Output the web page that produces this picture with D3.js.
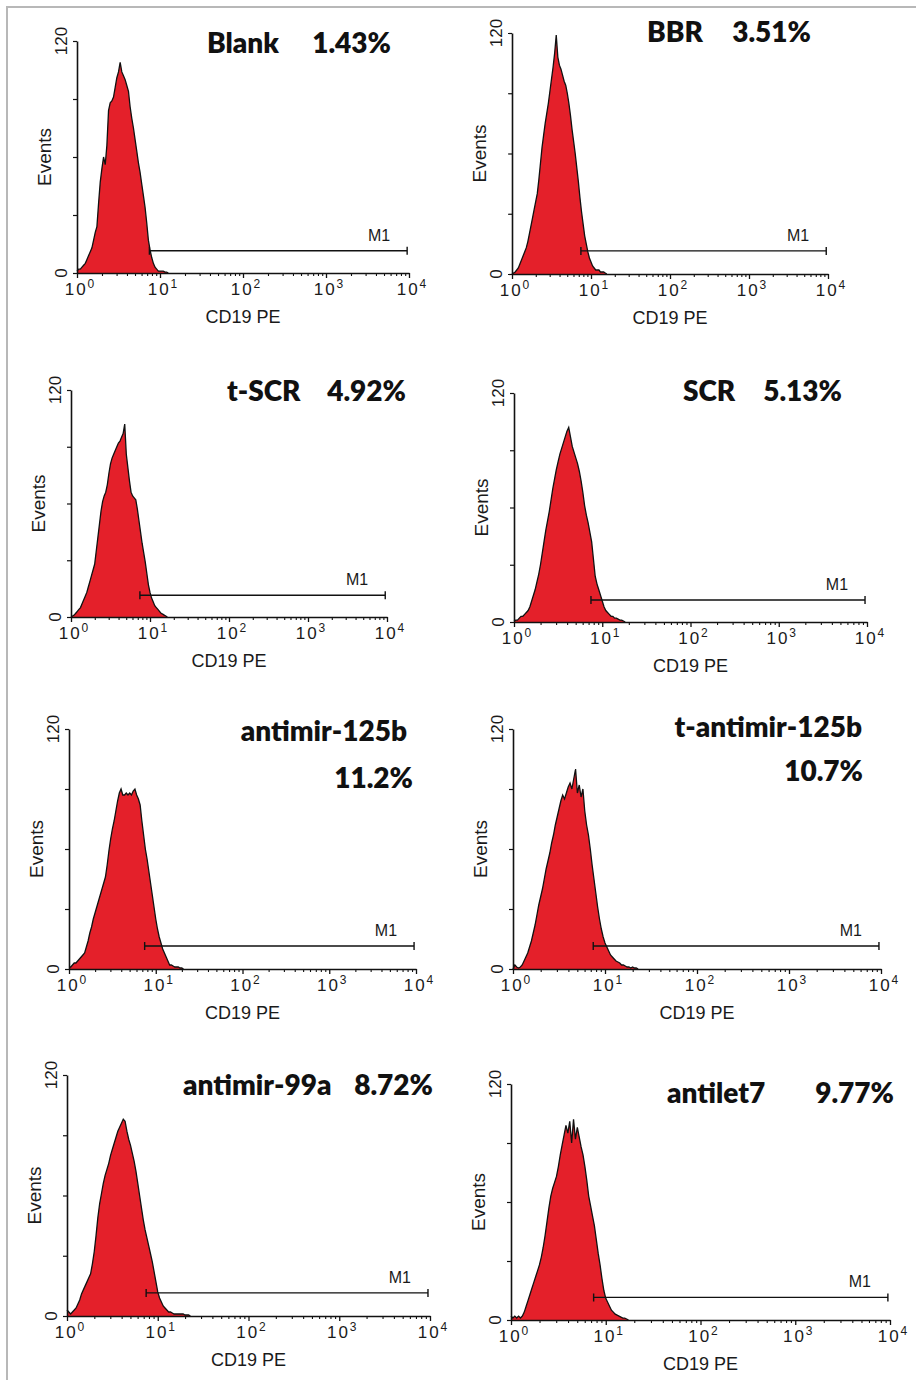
<!DOCTYPE html>
<head>
  <meta charset="utf-8">
  <script src="https://d3js.org/d3.v7.min.js"></script>
  <style>
    body { margin:0; background:#fff; }
    text { font-family: "Liberation Sans", Arial, sans-serif; fill:#1a1a1a; }
    .title { font-family: Lato, "Open Sans", sans-serif; font-weight:800; font-size:28px; fill:#111; }
    .tick-lab { font-size:17px; letter-spacing:2px; }
    .axis-name { font-size:18px; }
    .ylab { font-size:17px; }
    .gate-lab { font-size:16px; }
  </style>
</head>

<body>
<script>
  // samples and % of CD19+ cells inside the M1 gate
  var samples = ["Blank", "BBR", "t-SCR", "SCR", "antimir-125b", "t-antimir-125b", "antimir-99a", "antilet7"];
  var positive = ["1.43%", "3.51%", "4.92%", "5.13%", "11.2%", "10.7%", "8.72%", "9.77%"];

  var decades = [0, 1, 2, 3, 4];          // x axis 10^0 .. 10^4
  var eventTicks = [0, 30, 60, 90, 120];
  var eventLabels = [0, 120];
  var gateM1 = [7.45, 9500];              // M1 marker range
  var gateLevel = 11.5;                   // height the marker is drawn at
  var channelStep = 0.02;                 // decades per histogram channel

  // events per channel, channel i sits at 10^(i*channelStep)
  var blankCounts = [1,2,2,3,4,5,7,9,11,13,17,21,24,36,47,54,60,56,66,84,88,89,91,96,101,104,109,104,102,100,97,94,86,80,75,69,63,57,52,46,40,34,26,17,12,8,5,3,2,1,1,1,1,0.5,0.5,0];
  var bbrCounts = [0,0.5,1,2,3,5,7,9,11,13,16,20,24,28,32,36,40,47,55,63,69,75,80,85,91,97,103,110,119,108,104,102,99,96,94,90,85,79,72,66,60,53,46,38,31,25,19,15,11,8,6,4,3,2,2,2,1,1,1,0.5,0];
  var tscrCounts = [0,0.5,1,2,3,4,5,7,9,11,13,16,19,22,25,28,35,42,49,56,61,64,66,70,76,81,84,86,88,90,92,93,95,97,102,86,79,72,66,64,63,62,57,51,45,39,34,29,23,17,13,10,8,6,5,4,3,2,1.5,1,0.5,0];
  var scrCounts = [0.5,1,1,2,3,3,4,5,6,8,11,14,17,21,25,30,36,42,48,53,58,64,70,75,80,84,88,91,94,97,100,102,97,92,89,86,83,79,74,68,61,56,52,47,42,33,24,20,17,14,11,8,6,5,4,3,3,2,2,1.5,1,1,0.5,0];
  var am125bCounts = [1,1,2,3,3,4,5,6,7,8,11,14,18,21,25,28,31,34,37,40,43,46,52,59,65,70,74,79,84,88,90,87,87,88,87,88,87,89,90,87,85,82,74,67,60,55,49,43,37,31,25,20,16,13,10,8,6,4,2,2,1.5,1,1,1,0.5,0.5,0];
  var tam125bCounts = [0,2,1,0.5,1,2,4,6,8,11,14,18,22,27,32,36,40,45,50,54,58,63,67,72,76,80,84,87,85,88,91,93,90,95,100,88,92,86,90,79,72,67,60,52,45,38,31,25,20,16,13,11,9,7,6,5,4,3.5,3,2,2,1.5,1,1,0.5,1,0.5,0.5,0];
  var am99aCounts = [3,2,1,2,3,4,6,8,11,13,15,17,19,21,26,32,40,49,56,61,66,70,73,76,80,83,86,89,92,94,96,98,97,92,88,85,81,77,72,66,60,54,48,43,39,35,31,27,22,17,12,9,7,5,4,3,2,2,1.5,1,1,1,1,1,1,0.5,0.5,0.5,0];
  var antilet7Counts = [2,1,2,1,2,1,2,4,7,10,13,16,19,22,25,28,32,37,43,50,57,63,67,70,73,78,84,89,94,99,95,101,90,102,92,98,93,88,84,78,71,63,58,53,48,41,34,28,21,15,11,9,7,5,4,3,2.5,2,1.5,1,1,0.5,0];

  var counts = [blankCounts, bbrCounts, tscrCounts, scrCounts, am125bCounts, tam125bCounts, am99aCounts, antilet7Counts];

  // plot boxes (pixels) and title placement for each panel
  var layout = [
    {x0:77,  x1:409, y0:41,   y1:273,  lab:[207,53,"start"],   pct:[391,53]},
    {x0:512, x1:828, y0:33,   y1:274,  lab:[647,42,"start"],   pct:[811,42]},
    {x0:71,  x1:387, y0:390,  y1:617,  lab:[227,401,"start"],  pct:[406,401]},
    {x0:514, x1:867, y0:393,  y1:622,  lab:[683,401,"start"],  pct:[842,401]},
    {x0:69,  x1:416, y0:729,  y1:969,  lab:[407,741,"end"],    pct:[413,788]},
    {x0:513, x1:881, y0:729,  y1:969,  lab:[862,737,"end"],    pct:[863,781]},
    {x0:67,  x1:430, y0:1075, y1:1316, lab:[183,1095,"start"], pct:[433,1095]},
    {x0:511, x1:890, y0:1084, y1:1320, lab:[667,1103,"start"], pct:[894,1103]}
  ];

  var svg = d3.select("body").append("svg")
      .attr("width", 916)
      .attr("height", 1380);

  // light frame along top and left
  svg.append("path")
      .attr("d", "M7,1380V7H916")
      .attr("fill", "none")
      .attr("stroke", "#b8b8b8")
      .attr("stroke-width", 2);

  var majors = decades.map(function(p) { return Math.pow(10, p); });
  var minors = [];
  decades.slice(0, -1).forEach(function(p) {
    for (var m = 2; m < 10; m++) minors.push(m * Math.pow(10, p));
  });

  samples.forEach(function(name, k) {
    var L = layout[k];
    var x = d3.scaleLog().domain([1, 1e4]).range([L.x0, L.x1]);
    var y = d3.scaleLinear().domain([0, 120]).range([L.y1, L.y0]);
    var g = svg.append("g");

    var pts = counts[k].map(function(c, i) { return [Math.pow(10, i * channelStep), c]; });

    var area = d3.area()
        .x(function(d) { return x(d[0]); })
        .y0(y(0))
        .y1(function(d) { return y(d[1]); });
    var line = d3.line()
        .x(function(d) { return x(d[0]); })
        .y(function(d) { return y(d[1]); });

    g.append("path").datum(pts)
        .attr("d", area)
        .attr("fill", "#e4202a");
    g.append("path").datum(pts)
        .attr("d", line)
        .attr("fill", "none")
        .attr("stroke", "#111")
        .attr("stroke-width", 1.3);

    // x axis: major + minor log ticks
    var xa = g.append("g")
        .attr("transform", "translate(0," + L.y1 + ")")
        .attr("color", "#111")
        .attr("font-family", null)
        .attr("font-size", null)
        .call(d3.axisBottom(x).tickValues(majors).tickSize(5).tickSizeOuter(0).tickFormat(""));
    xa.attr("font-family", null).attr("font-size", null);
    xa.select(".domain").attr("stroke-width", 1.6);
    xa.selectAll(".tick line").attr("stroke-width", 1.3);
    xa.selectAll(".tick text")
        .attr("class", "tick-lab")
        .attr("x", 3)
        .attr("y", 22)
        .attr("dy", null)
        .each(function(d) {
          var t = d3.select(this);
          t.append("tspan").text("10");
          t.append("tspan")
              .attr("dy", -7)
              .style("font-size", "12px")
              .text(Math.round(Math.log10(d)));
        });

    var xm = g.append("g")
        .attr("transform", "translate(0," + L.y1 + ")")
        .attr("color", "#111")
        .call(d3.axisBottom(x).tickValues(minors).tickSize(3).tickFormat(""));
    xm.select(".domain").remove();
    xm.selectAll(".tick line").attr("stroke-width", 1.1);

    // y axis
    var ya = g.append("g")
        .attr("transform", "translate(" + L.x0 + ",0)")
        .attr("color", "#111")
        .call(d3.axisLeft(y).tickValues(eventTicks).tickSize(4).tickSizeOuter(0).tickFormat(""));
    ya.select(".domain").attr("stroke-width", 1.6);
    ya.selectAll(".tick line").attr("stroke-width", 1.2);

    eventLabels.forEach(function(v) {
      g.append("text")
          .attr("class", "ylab")
          .attr("text-anchor", "middle")
          .attr("transform", "translate(" + (L.x0 - 10) + "," + y(v) + ") rotate(-90)")
          .text(v);
    });

    g.append("text")
        .attr("class", "axis-name")
        .attr("text-anchor", "middle")
        .attr("transform", "translate(" + (L.x0 - 26) + "," + ((L.y0 + L.y1) / 2) + ") rotate(-90)")
        .style("font-size", "19px")
        .text("Events");

    g.append("text")
        .attr("class", "axis-name")
        .attr("text-anchor", "middle")
        .attr("x", (L.x0 + L.x1) / 2)
        .attr("y", L.y1 + 50)
        .text("CD19 PE");

    // M1 marker
    var gy = y(gateLevel), ga = x(gateM1[0]), gb = x(gateM1[1]);
    g.append("path")
        .attr("d", "M" + ga + "," + gy + "H" + gb +
                   "M" + ga + "," + (gy - 4) + "V" + (gy + 4) +
                   "M" + gb + "," + (gy - 4) + "V" + (gy + 4))
        .attr("fill", "none")
        .attr("stroke", "#111")
        .attr("stroke-width", 1.4);
    g.append("text")
        .attr("class", "gate-lab")
        .attr("text-anchor", "end")
        .attr("x", gb - 17)
        .attr("y", gy - 10)
        .text("M1");

    // sample title and percentage
    g.append("text")
        .attr("class", "title")
        .attr("x", L.lab[0])
        .attr("y", L.lab[1])
        .attr("text-anchor", L.lab[2])
        .text(name);
    g.append("text")
        .attr("class", "title")
        .attr("x", L.pct[0])
        .attr("y", L.pct[1])
        .attr("text-anchor", "end")
        .text(positive[k]);
  });
</script>
</body>
